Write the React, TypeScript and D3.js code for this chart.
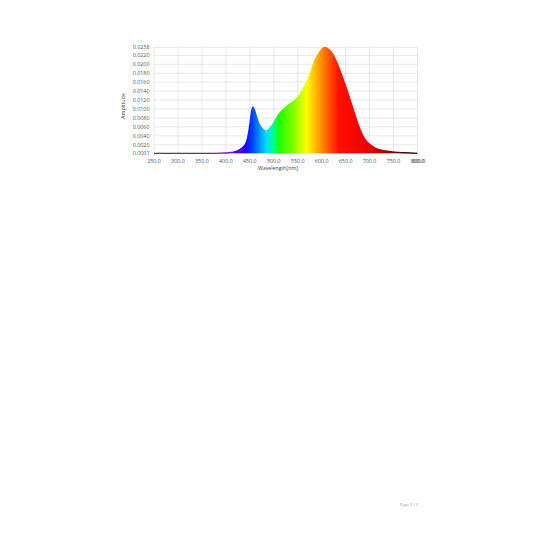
import { useMemo } from 'react';
import * as d3 from 'd3';

// Spectrum (nm, amplitude)
const wavelengths = [
  250, 300, 350, 380, 400, 410, 420, 425, 430, 435, 440, 445, 450, 453, 456, 459, 463, 468, 473, 478, 484,
  490, 497, 503, 512, 526, 540, 554, 564, 575, 585, 596, 606, 612, 618, 625, 632, 640, 646, 653, 660, 667,
  675, 683, 690, 697, 705, 715, 725, 740, 760, 780, 800,
];
const amplitudes = [
  0.0001, 0.0001, 0.0001, 0.0001, 0.0002, 0.0003, 0.0005, 0.0007, 0.001, 0.0014, 0.002, 0.0034, 0.0065, 0.009,
  0.0104, 0.01, 0.0087, 0.007, 0.006, 0.0054, 0.0051, 0.0055, 0.0064, 0.0075, 0.009, 0.0105, 0.0116, 0.0131,
  0.015, 0.0176, 0.0206, 0.0228, 0.0238, 0.0236, 0.023, 0.0219, 0.0203, 0.0181, 0.0163, 0.0142, 0.0118, 0.0095,
  0.0068, 0.0047, 0.0033, 0.0024, 0.0017, 0.0011, 0.0008, 0.0005, 0.0003, 0.0002, 0.0001,
];

const xTicks = [250, 300, 350, 400, 450, 500, 550, 600, 650, 700, 750, 800];
const yTicks = [0.0001, 0.002, 0.004, 0.006, 0.008, 0.01, 0.012, 0.014, 0.016, 0.018, 0.02, 0.022, 0.0238];

// colour of the fill along the wavelength axis
const stopWavelengths = [250, 370, 395, 420, 440, 455, 470, 485, 500, 512, 540, 568, 590, 612, 635, 690, 730, 765, 790, 800];
const stopColors = [
  '#4a4a4a', '#4a4a4a', '#7b2a9a', '#6a00d0', '#2000ff', '#0040ff', '#0090ff', '#00e0ff', '#00ff80', '#20ff00',
  '#80ff00', '#ffff00', '#ffb000', '#ff6000', '#ff1000', '#f00000', '#b00000', '#600000', '#200000', '#101010',
];

const font = '"Open Sans", "DejaVu Sans", sans-serif';
const tickColor = '#555';
const gridColor = '#dcdcdc';

export default function App() {
  const x = d3.scaleLinear().domain([250, 800]).range([154, 417.5]);
  const y = d3.scaleLinear().domain([0.0001, 0.0238]).range([153.3, 47.3]);

  const data = useMemo(() => wavelengths.map((w, i) => ({ w, v: amplitudes[i] })), []);

  const area = d3
    .area<{ w: number; v: number }>()
    .x((d) => x(d.w))
    .y0(y(0.0001))
    .y1((d) => y(d.v))
    .curve(d3.curveMonotoneX);
  const line = d3
    .line<{ w: number; v: number }>()
    .x((d) => x(d.w))
    .y((d) => y(d.v))
    .curve(d3.curveMonotoneX);

  return (
    <svg
      width={536}
      height={536}
      style={{ position: 'absolute', left: 0, top: 0, display: 'block', background: '#fff' }}
    >
      <defs>
        <linearGradient id="spec" gradientUnits="userSpaceOnUse" x1={x(250)} x2={x(800)} y1={0} y2={0}>
          {stopWavelengths.map((w, i) => (
            <stop key={w} offset={(w - 250) / 550} stopColor={stopColors[i]} />
          ))}
        </linearGradient>
      </defs>

      {/* grid */}
      {xTicks.map((t) => (
        <line key={'gx' + t} x1={x(t)} x2={x(t)} y1={y(0.0238)} y2={y(0.0001)} stroke={gridColor} strokeWidth={0.7} />
      ))}
      {yTicks.map((t) => (
        <line key={'gy' + t} x1={x(250)} x2={x(800)} y1={y(t)} y2={y(t)} stroke={gridColor} strokeWidth={0.7} />
      ))}

      <path d={area(data) ?? ''} fill="url(#spec)" />
      <path d={line(data) ?? ''} fill="none" stroke="url(#spec)" strokeWidth={1.3} />

      {/* y ticks */}
      {yTicks.map((t) => (
        <text
          key={'ty' + t}
          x={149.5}
          y={y(t)}
          dy="0.35em"
          textAnchor="end"
          fontSize={5.4}
          fontFamily={font}
          fill={tickColor}
        >
          {t.toFixed(4)}
        </text>
      ))}
      {/* x ticks */}
      {xTicks.map((t) => (
        <text
          key={'tx' + t}
          x={x(t)}
          y={161.3}
          dy="0.35em"
          textAnchor="middle"
          fontSize={5.4}
          fontFamily={font}
          fill={tickColor}
        >
          {t.toFixed(1)}
        </text>
      ))}
      <text x={x(800) + 1} y={161.3} dy="0.35em" textAnchor="middle" fontSize={5.4} fontFamily={font} fill={tickColor}>
        800.0
      </text>

      <text
        transform="translate(123,106) rotate(-90)"
        textAnchor="middle"
        dy="0.35em"
        fontSize={5.4}
        fontFamily={font}
        fill="#444"
      >
        Amplitude
      </text>
      <text x={278} y={168.6} dy="0.35em" textAnchor="middle" fontSize={5.2} fontFamily={font} fill="#444">
        Wavelength[nm]
      </text>

      <text x={409} y={505} dy="0.35em" textAnchor="middle" fontSize={4} fontFamily={font} fill="#999">
        Page 3 / 3
      </text>
    </svg>
  );
}
